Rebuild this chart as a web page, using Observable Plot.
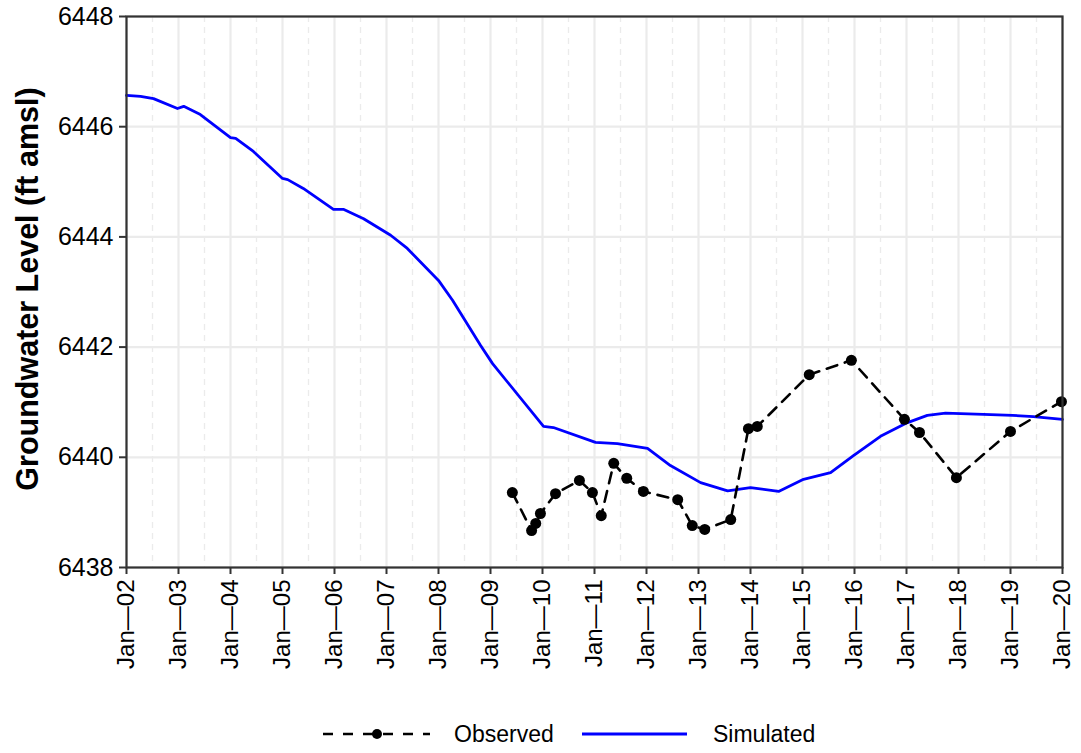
<!DOCTYPE html>
<html>
<head>
<meta charset="utf-8">
<script src="https://cdn.jsdelivr.net/npm/d3@7"></script>
<script src="https://cdn.jsdelivr.net/npm/@observablehq/plot@0.6"></script>
<style>
  body { margin: 0; background: #fff; font-family: "Liberation Sans", Arial, sans-serif; }
  #chart { width: 1081px; height: 700px; }
  #legend { width: 1081px; height: 53px; position: relative; }
  #legend svg { position: absolute; left: 0; top: 0; }
</style>
</head>
<body>
<div id="chart"></div>
<div id="legend"></div>
<script>
// ---- data (decimal years, ft amsl) ----
const simYear = [2002.0, 2002.27, 2002.52, 2002.98, 2003.1, 2003.42, 2004.0, 2004.1, 2004.44, 2005.0, 2005.1, 2005.4, 2005.98, 2006.17, 2006.56, 2007.08, 2007.4, 2008.0, 2008.27, 2008.81, 2009.04, 2010.02, 2010.21, 2011.02, 2011.44, 2012.02, 2012.46, 2013.04, 2013.56, 2014.0, 2014.54, 2015.02, 2015.54, 2015.98, 2016.5, 2017.02, 2017.4, 2017.75, 2018.48, 2019.04, 2019.44, 2020.0];
const simLevel = [6446.57, 6446.55, 6446.51, 6446.33, 6446.37, 6446.22, 6445.80, 6445.79, 6445.55, 6445.06, 6445.04, 6444.88, 6444.50, 6444.50, 6444.33, 6444.03, 6443.79, 6443.21, 6442.85, 6442.03, 6441.70, 6440.56, 6440.54, 6440.27, 6440.25, 6440.16, 6439.85, 6439.54, 6439.39, 6439.45, 6439.38, 6439.60, 6439.72, 6440.03, 6440.38, 6440.63, 6440.76, 6440.80, 6440.78, 6440.76, 6440.74, 6440.69];
const obsYear = [2009.42, 2009.79, 2009.87, 2009.96, 2010.25, 2010.71, 2010.96, 2011.13, 2011.37, 2011.62, 2011.94, 2012.6, 2012.88, 2013.12, 2013.62, 2013.96, 2014.13, 2015.13, 2015.94, 2016.96, 2017.25, 2017.96, 2019.0, 2019.98];
const obsLevel = [6439.36, 6438.67, 6438.80, 6438.98, 6439.34, 6439.58, 6439.36, 6438.94, 6439.89, 6439.62, 6439.38, 6439.23, 6438.76, 6438.69, 6438.87, 6440.52, 6440.56, 6441.50, 6441.76, 6440.69, 6440.45, 6439.63, 6440.47, 6441.01];
const xTicks = [2002, 2003, 2004, 2005, 2006, 2007, 2008, 2009, 2010, 2011, 2012, 2013, 2014, 2015, 2016, 2017, 2018, 2019, 2020];
const xTickLabels = ["Jan—02", "Jan—03", "Jan—04", "Jan—05", "Jan—06", "Jan—07", "Jan—08", "Jan—09", "Jan—10", "Jan—11", "Jan—12", "Jan—13", "Jan—14", "Jan—15", "Jan—16", "Jan—17", "Jan—18", "Jan—19", "Jan—20"];
const xMinor = [2002.5, 2003.5, 2004.5, 2005.5, 2006.5, 2007.5, 2008.5, 2009.5, 2010.5, 2011.5, 2012.5, 2013.5, 2014.5, 2015.5, 2016.5, 2017.5, 2018.5, 2019.5];
const yTicks = [6438, 6440, 6442, 6444, 6446, 6448];
const seriesNames = ["Observed", "Simulated"];
const yTitle = "Groundwater Level (ft amsl)";

const sim = simYear.map((x, i) => ({x, y: simLevel[i]}));
const obs = obsYear.map((x, i) => ({x, y: obsLevel[i]}));
const labelOf = new Map(xTicks.map((t, i) => [t, xTickLabels[i]]));

const chart = Plot.plot({
  width: 1081,
  height: 700,
  marginLeft: 126,
  marginRight: 19,
  marginTop: 16,
  marginBottom: 133,
  style: {fontFamily: "'Liberation Sans', Arial, sans-serif", color: "#000", background: "#fff"},
  x: {type: "linear", domain: [2002, 2020], label: null},
  y: {domain: [6438, 6448], label: null},
  marks: [
    Plot.ruleX(xMinor, {stroke: "#ebebeb", strokeWidth: 1.3, strokeDasharray: "6,5"}),
    Plot.ruleX(xTicks, {stroke: "#ebebeb", strokeWidth: 2.2}),
    Plot.ruleY(yTicks, {stroke: "#ebebeb", strokeWidth: 2.2}),
    Plot.line(sim, {x: "x", y: "y", stroke: "#0000ff", strokeWidth: 2.8}),
    Plot.line(obs, {x: "x", y: "y", stroke: "#000", strokeWidth: 2.6, strokeDasharray: "11,8"}),
    Plot.dot(obs, {x: "x", y: "y", r: 5.5, fill: "#000"}),
    Plot.frame({stroke: "#333", strokeWidth: 2.2}),
    Plot.axisX({ticks: xTicks, tickFormat: d => labelOf.get(d), tickRotate: -90, tickSize: 7, tickPadding: 5, fontSize: 24, stroke: "#333", strokeWidth: 2, fill: "#000", label: null}),
    Plot.axisY({ticks: yTicks, tickFormat: d => String(d), tickSize: 7, tickPadding: 6, fontSize: 25, stroke: "#333", strokeWidth: 2, fill: "#000", label: null}),
  ]
});
document.getElementById("chart").appendChild(chart);

const svg = d3.select(chart);

// y axis title
svg.append("text")
  .attr("transform", "translate(38,289) rotate(-90)")
  .attr("text-anchor", "middle")
  .attr("font-weight", "bold")
  .style("font-size", "30.5px")
  .attr("fill", "#000")
  .text(yTitle);

// legend
const lg = d3.select("#legend").append("svg").attr("width", 1081).attr("height", 53);
const ly = 34;
lg.append("line").attr("x1", 323).attr("x2", 430).attr("y1", ly).attr("y2", ly)
  .attr("stroke", "#000").attr("stroke-width", 2.6).attr("stroke-dasharray", "10,10");
lg.append("circle").attr("cx", 377).attr("cy", ly).attr("r", 5).attr("fill", "#000");
lg.append("text").attr("x", 454).attr("y", ly + 8)
  .style("font-size", "23px").attr("fill", "#000").text(seriesNames[0]);
lg.append("line").attr("x1", 582).attr("x2", 687).attr("y1", ly).attr("y2", ly)
  .attr("stroke", "#0000ff").attr("stroke-width", 2.8);
lg.append("text").attr("x", 713).attr("y", ly + 8)
  .style("font-size", "23px").attr("fill", "#000").text(seriesNames[1]);
</script>
</body>
</html>
